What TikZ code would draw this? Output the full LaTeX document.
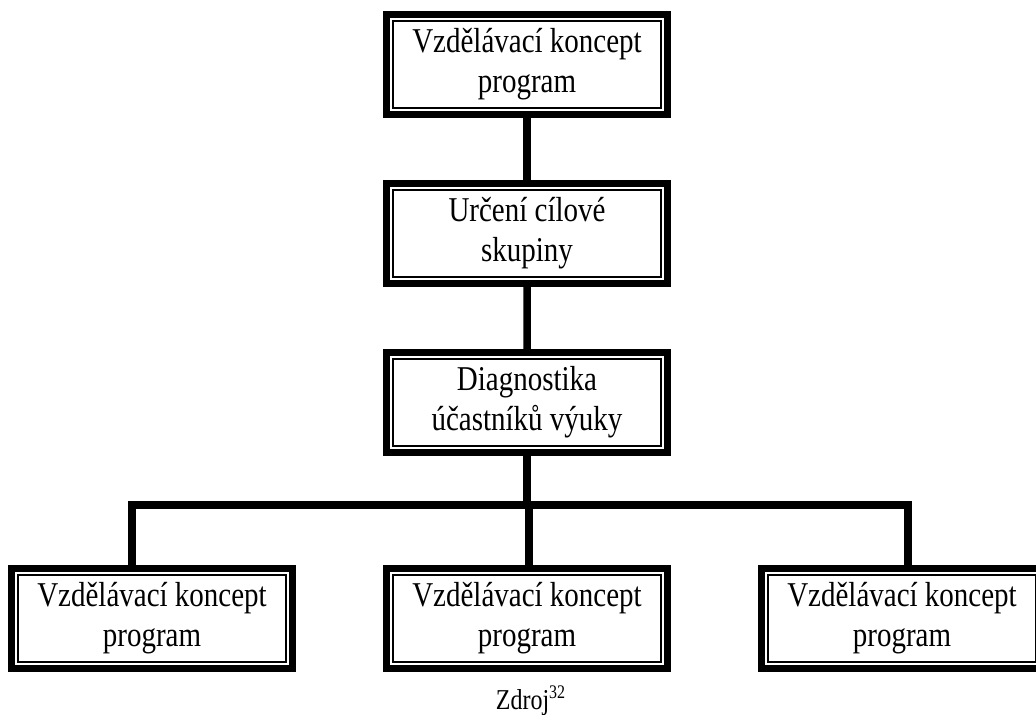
\documentclass[tikz,border=0pt]{standalone}
\usepackage{fontspec}
\setmainfont{Liberation Serif}
\usepackage{graphicx}

\newcommand{\boxtext}[1]{\scalebox{1}[1.2]{\begin{tabular}{@{}c@{}}#1\end{tabular}}}

\tikzset{
    conceptbox/.style={rectangle, draw, line width=3.5pt, fill=white, inner sep=0pt,
        minimum width=140.5pt, minimum height=50pt,
        font=\fontsize{14.5}{16.5}\selectfont,
        path picture={\draw[line width=1pt]
            ([shift={(3.25pt,3.25pt)}]path picture bounding box.south west) rectangle
            ([shift={(-3.25pt,-3.25pt)}]path picture bounding box.north east);}},
    bus/.style={edge from parent path={(\tikzparentnode.south) -- ++(0pt,-24.5pt)
        -| ([xshift=#1]\tikzchildnode.north)}},
    bus/.default=0pt
}

\begin{document}
\begin{tikzpicture}[x=0.5pt, y=-0.5pt, level distance=84.5pt,
    level 3/.style={level distance=108pt, sibling distance=187.5pt},
    edge from parent/.style={draw, line width=3.75pt}]
    \useasboundingbox (0,0) rectangle (1036,715);
    \node [conceptbox] (koncept) at (527,64.5) {\boxtext{Vzdělávací koncept\\program}}
        child {node [conceptbox] (skupina) {\boxtext{Určení cílové\\skupiny}}
            child {node [conceptbox] (diagnostika) {\boxtext{Diagnostika\\účastníků výuky}}
                child [bus=-10pt] {node [conceptbox] (programA) {\boxtext{Vzdělávací koncept\\program}}}
                child [bus=1pt] {node [conceptbox] (programB) {\boxtext{Vzdělávací koncept\\program}}}
                child [bus=3pt] {node [conceptbox] (programC) {\boxtext{Vzdělávací koncept\\program}}}
            }
        }
        ;
    \node [anchor=base, font=\fontsize{12}{14}\selectfont] (zdroj) at (531,709)
        {\scalebox{1}[1.2]{Zdroj\textsuperscript{32}}};
\end{tikzpicture}
\end{document}
